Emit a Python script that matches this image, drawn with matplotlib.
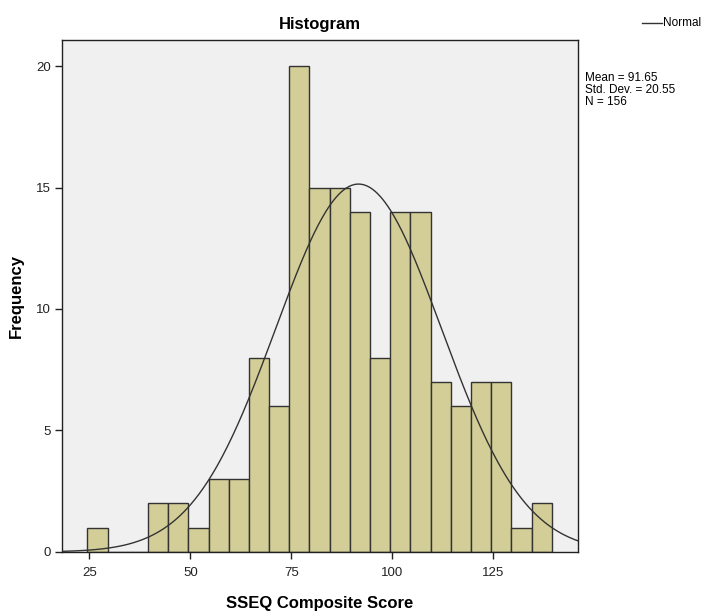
import numpy as np
import matplotlib
matplotlib.use('Agg')
import matplotlib.pyplot as plt
from matplotlib.lines import Line2D

# bin edges (width 5) and counts
bin_starts = [24.5, 29.5, 34.5, 39.5, 44.5, 49.5, 54.5, 59.5, 64.5, 69.5, 74.5, 79.5,
              84.5, 89.5, 94.5, 99.5, 104.5, 109.5, 114.5, 119.5, 124.5, 129.5, 134.5]
counts = [1, 0, 0, 2, 2, 1, 3, 3, 8, 6, 20, 15,
          15, 14, 8, 14, 14, 7, 6, 7, 7, 1, 2]
bin_width = 5
mean, sd, n = 91.65, 20.55, 156
xticks = [25, 50, 75, 100, 125]
yticks = [0, 5, 10, 15, 20]

plt.rcParams['font.family'] = ['Liberation Sans', 'DejaVu Sans']

fig = plt.figure(figsize=(7.07, 6.11), dpi=100)
ax = fig.add_axes([0.0877, 0.0966, 0.7298, 0.8379])
ax.set_facecolor('#f0f0f0')

ax.bar(bin_starts, counts, width=bin_width, align='edge',
       color='#d3ce97', edgecolor='#333333', linewidth=1.0, zorder=2)

xs = np.linspace(18.2, 146, 400)
pdf = n * bin_width / (sd * np.sqrt(2 * np.pi)) * np.exp(-0.5 * ((xs - mean) / sd) ** 2)
ax.plot(xs, pdf, color='#333333', linewidth=1.0, zorder=3)

ax.set_xlim(18.2, 146)
ax.set_ylim(0, 21.07)
ax.set_xticks(xticks)
ax.set_yticks(yticks)
ax.tick_params(direction='out', length=5, width=1, labelsize=9.5, colors='#222222')
ax.tick_params(axis='x', pad=6)
ax.tick_params(axis='y', pad=3)
for s in ax.spines.values():
    s.set_color('#222222')
    s.set_linewidth(1.0)

ax.set_title('Histogram', fontsize=12, fontweight='bold', pad=8)
ax.set_xlabel('SSEQ Composite Score', fontsize=12, fontweight='bold', labelpad=12)
ax.set_ylabel('Frequency', fontsize=12, fontweight='bold', labelpad=9)

# legend and summary outside the plot
fig.lines.append(Line2D([0.908, 0.936], [0.963, 0.963], transform=fig.transFigure,
                        color='#333333', linewidth=1.0))
fig.text(0.938, 0.963, 'Normal', fontsize=8.5, va='center', ha='left')
fig.text(0.828, 0.882, f'Mean = {mean}\nStd. Dev. = {sd}\nN = {n}',
         fontsize=8.5, va='top', ha='left', linespacing=1.0)

fig.savefig('out.png', dpi=100)
